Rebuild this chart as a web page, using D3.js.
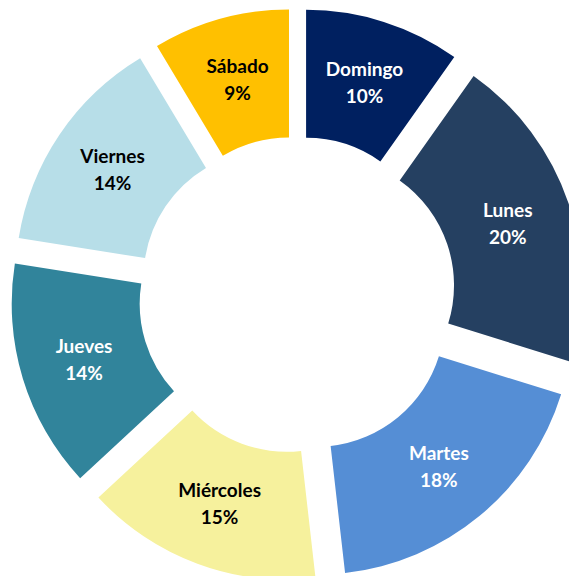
<!DOCTYPE html>
<html>
<head>
<meta charset="utf-8">
<script src="https://cdn.jsdelivr.net/npm/d3@7"></script>
<style>
  html, body { margin: 0; padding: 0; background: #fff; }
  svg { display: block; }
  text { font-family: Lato, "Open Sans", sans-serif; font-weight: bold; }
</style>
</head>
<body>
<svg width="569" height="576"></svg>
<script>
// days of week, share of total (%)
var days = ["Domingo", "Lunes", "Martes", "Miércoles", "Jueves", "Viernes", "Sábado"];
var shares = [9.8, 20.0, 18.4, 14.9, 14.4, 13.9, 8.6];
var fills = ["#002060", "#254061", "#558ED5", "#F6F19D", "#31849B", "#B7DEE8", "#FFC000"];
var textColors = ["#fff", "#fff", "#fff", "#000", "#fff", "#000", "#000"];

var svg = d3.select("svg"),
    width = +svg.attr("width"),
    height = +svg.attr("height");

var cx = 297, cy = 295,
    outerR = 256.6,
    innerR = 128.6,
    explode = 30;

var data = days.map(function(d, i) { return {day: d, value: shares[i], i: i}; });
var total = d3.sum(shares);
var fmt = function(v) { return Math.round(v / total * 100) + "%"; };

var pie = d3.pie()
    .sort(null)
    .value(function(d) { return d.value; });

var arc = d3.arc()
    .innerRadius(innerR)
    .outerRadius(outerR);

var g = svg.append("g")
    .attr("transform", "translate(" + cx + "," + cy + ")");

var slice = g.selectAll("g.slice")
    .data(pie(data))
    .enter().append("g")
      .attr("class", "slice")
      .attr("transform", function(d) {
        var a = (d.startAngle + d.endAngle) / 2;
        return "translate(" + (explode * Math.sin(a)) + "," + (-explode * Math.cos(a)) + ")";
      });

slice.append("path")
    .attr("d", arc)
    .attr("fill", function(d) { return fills[d.data.i]; });

var label = slice.append("text")
    .attr("text-anchor", "middle")
    .attr("font-size", 19)
    .attr("fill", function(d) { return textColors[d.data.i]; })
    .attr("transform", function(d) {
      var c = arc.centroid(d);
      return "translate(" + c[0] + "," + c[1] + ")";
    });

label.append("tspan")
    .attr("x", 0)
    .attr("y", -7)
    .text(function(d) { return d.data.day; });

label.append("tspan")
    .attr("x", 0)
    .attr("y", 20)
    .text(function(d) { return fmt(d.data.value); });
</script>
</body>
</html>
